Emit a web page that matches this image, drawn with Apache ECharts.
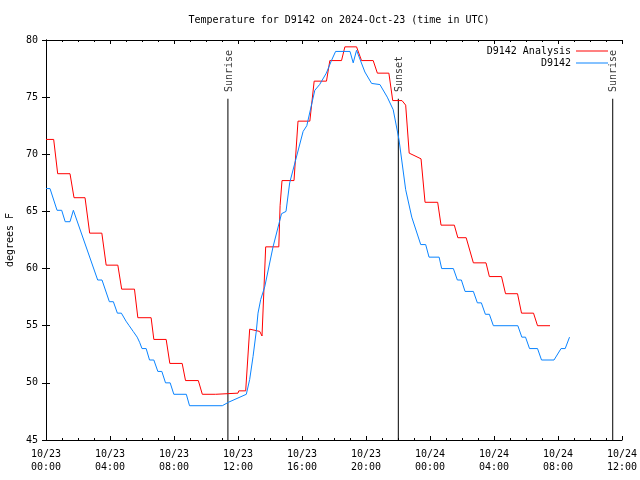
<!DOCTYPE html>
<html><head><meta charset="utf-8">
<script src="https://cdn.jsdelivr.net/npm/echarts@6/dist/echarts.min.js"></script>
<style>html,body{margin:0;padding:0;background:#fff}#c{width:640px;height:480px}</style>
</head><body><div id="c"></div>
<script>
// hours since 2024-10-23 00:00 UTC, temperature (F)
const analysis = [[0,71.3],[0.48,71.3],[0.73,68.3],[1.5,68.3],[1.75,66.2],[2.44,66.2],[2.73,63.1],[3.49,63.1],[3.76,60.3],[4.49,60.3],[4.73,58.2],[5.53,58.2],[5.74,55.7],[6.57,55.7],[6.74,53.8],[7.51,53.8],[7.74,51.7],[8.51,51.7],[8.72,50.2],[9.52,50.2],[9.77,49.0],[10.6,49.0],[10.65,49.1],[12.0,49.1],[12.05,49.3],[12.48,49.3],[12.73,54.7],[13.36,54.5],[13.5,54.1],[13.73,61.9],[14.55,61.9],[14.63,65.5],[14.75,67.7],[15.5,67.7],[15.75,72.9],[16.49,72.9],[16.76,76.4],[17.53,76.4],[17.74,78.2],[18.47,78.2],[18.68,79.4],[19.41,79.4],[19.72,78.2],[20.45,78.2],[20.71,77.1],[21.43,77.1],[21.67,74.7],[22.25,74.7],[22.48,74.3],[22.7,70.1],[23.0,69.9],[23.44,69.6],[23.69,65.8],[24.48,65.8],[24.69,63.8],[25.52,63.8],[25.74,62.7],[26.26,62.7],[26.71,60.5],[27.5,60.5],[27.71,59.3],[28.47,59.3],[28.72,57.8],[29.47,57.8],[29.72,56.1],[30.47,56.1],[30.72,55.0],[31.5,55.0]];
const observed = [[0,67.0],[0.25,67.0],[0.69,65.1],[0.98,65.1],[1.2,64.1],[1.5,64.1],[1.71,65.1],[3.23,59.0],[3.5,59.0],[3.96,57.1],[4.21,57.1],[4.46,56.1],[4.71,56.1],[5.0,55.4],[5.2,55.0],[5.45,54.5],[5.7,54.0],[5.85,53.55],[6.0,53.0],[6.26,53.0],[6.47,52.0],[6.74,52.0],[6.99,51.0],[7.24,51.0],[7.47,50.0],[7.76,50.0],[7.99,49.0],[8.77,49.0],[8.97,48.0],[11.02,48.0],[11.4,48.3],[12.52,49.0],[12.73,50.3],[12.94,52.3],[13.15,54.6],[13.25,56.1],[13.42,57.3],[13.67,58.4],[14.19,61.9],[14.72,64.8],[15.0,65.0],[15.23,67.5],[16.07,72.0],[16.3,72.5],[16.8,75.6],[17.1,76.1],[17.52,77.1],[17.84,78.2],[18.1,79.0],[19.0,79.0],[19.2,78.0],[19.41,79.1],[19.93,77.2],[20.35,76.2],[20.87,76.1],[21.33,75.0],[21.7,73.9],[22.06,71.3],[22.48,66.9],[22.86,64.5],[23.42,62.1],[23.73,62.1],[23.94,61.0],[24.57,61.0],[24.73,60.0],[25.46,60.0],[25.71,59.0],[25.96,59.0],[26.19,58.0],[26.71,58.0],[26.96,57.0],[27.21,57.0],[27.46,56.0],[27.71,56.0],[27.96,55.0],[29.49,55.0],[29.74,54.0],[29.97,54.0],[30.22,53.0],[30.72,53.0],[30.97,52.0],[31.75,52.0],[32.19,53.0],[32.45,53.0],[32.72,54.0]];
const eventNames = ['Sunrise','Sunset','Sunrise'];
const eventHours = [11.37, 22.02, 35.42];
const eventLineTop = 74.86;
const eventLabelBase = 75.45;
const tickLabels = ['10/23\n00:00','10/23\n04:00','10/23\n08:00','10/23\n12:00','10/23\n16:00','10/23\n20:00','10/24\n00:00','10/24\n04:00','10/24\n08:00','10/24\n12:00'];
const seriesNames = ['D9142 Analysis','D9142'];

const FONT = 'DejaVu Sans Mono';
const chart = echarts.init(document.getElementById('c'), null, {renderer:'canvas'});
const axisLine = {show:true, lineStyle:{color:'#000', width:1}};
const xCommon = {type:'value', min:0, max:36, interval:4,
  axisLine: axisLine, splitLine:{show:false},
  axisTick:{show:true, inside:true, length:4, lineStyle:{color:'#000'}},
  minorTick:{show:true, splitNumber:4, length:2, lineStyle:{color:'#000'}},
  minorSplitLine:{show:false}};
const yCommon = {type:'value', min:45, max:80, interval:5,
  axisLine: axisLine, splitLine:{show:false},
  axisTick:{show:true, inside:true, length:4, lineStyle:{color:'#000'}}};

const series = [
  {name:seriesNames[0], type:'line', data:analysis, symbol:'none', showSymbol:false,
   lineStyle:{color:'#ff0000', width:1}, itemStyle:{color:'#ff0000'}, z:3, animation:false},
  {name:seriesNames[1], type:'line', data:observed, symbol:'none', showSymbol:false,
   lineStyle:{color:'#0a84ff', width:1}, itemStyle:{color:'#0a84ff'}, z:4, animation:false}
];
eventHours.forEach((h, i) => {
  series.push({name:'ev'+i, type:'line', data:[[h,45],[h,eventLineTop]], symbol:'none',
    lineStyle:{color:'#000', width:1}, silent:true, animation:false, z:2});
});
series.push({name:'evlabels', type:'scatter', symbolSize:0, silent:true, animation:false,
  data: eventHours.map((h, i) => ({name:eventNames[i], value:[h, eventLabelBase]})),
  label:{show:true, formatter:'{b}', rotate:90, position:[1,0], align:'left', verticalAlign:'middle',
    fontFamily:FONT, fontSize:10, color:'#000'}});

chart.setOption({
  animation:false,
  backgroundColor:'#fff',
  title:{text:'Temperature for D9142 on 2024-Oct-23 (time in UTC)', left:334, top:10, textAlign:'center',
    textStyle:{fontFamily:FONT, fontSize:10, fontWeight:'normal', color:'#000'}},
  legend:{data:seriesNames, orient:'vertical', right:32, top:45, align:'right', padding:0,
    itemWidth:32, itemHeight:8, itemGap:0, icon:'path://M0,0L32,0L32,1L0,1Z',
    textStyle:{fontFamily:FONT, fontSize:10, color:'#000', lineHeight:12}},
  grid:{left:46, right:18, top:40, bottom:40, containLabel:false, outerBoundsMode:'none'},
  xAxis:[
    Object.assign({}, xCommon, {position:'bottom',
      axisLabel:{show:true, margin:8, lineHeight:13, fontFamily:FONT, fontSize:10, color:'#000',
        formatter:(v) => tickLabels[Math.round(v/4)]}}),
    Object.assign({}, xCommon, {position:'top', axisLabel:{show:false}})
  ],
  yAxis:[
    Object.assign({}, yCommon, {position:'left', name:'degrees F', nameLocation:'middle', nameGap:31, nameRotate:90,
      nameTextStyle:{fontFamily:FONT, fontSize:10, color:'#000'},
      axisLabel:{show:true, margin:8, fontFamily:FONT, fontSize:10, color:'#000'}}),
    Object.assign({}, yCommon, {position:'right', axisLabel:{show:false}})
  ],
  series: series
});
</script></body></html>
